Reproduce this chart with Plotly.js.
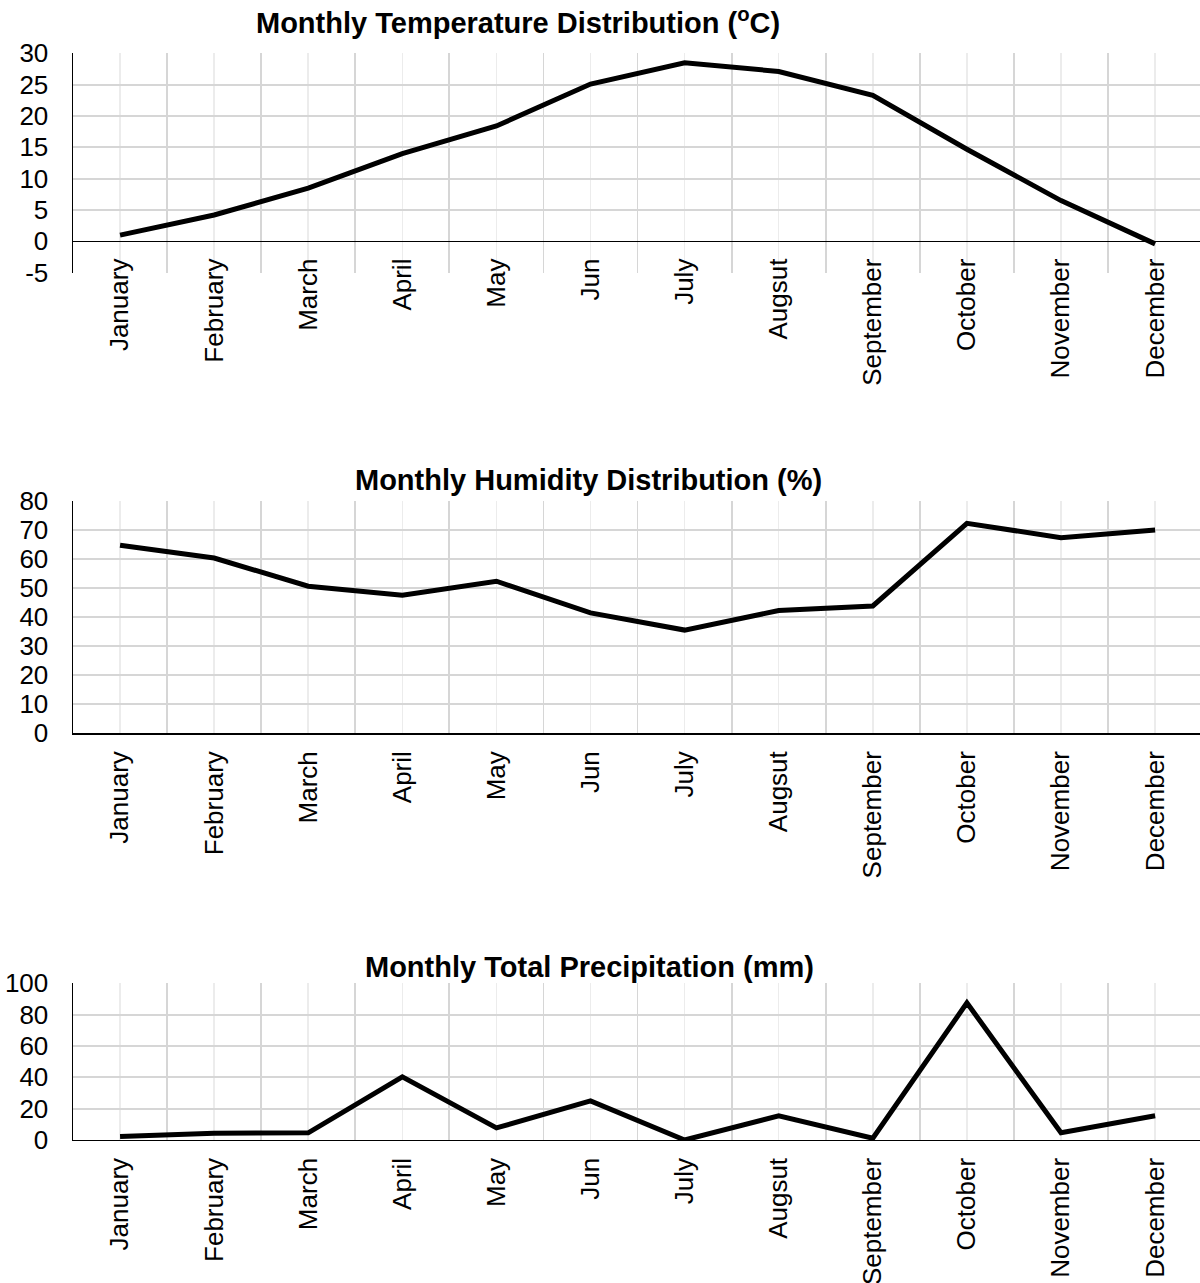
<!DOCTYPE html>
<html>
<head>
<meta charset="utf-8">
<script src="https://cdn.plot.ly/plotly-3.0.1.min.js"></script>
<style>
html,body{margin:0;padding:0;background:#fff;}
#chart{width:1200px;height:1283px;}
</style>
</head>
<body>
<div id="chart"></div>
<script>
const months = ["January","February","March","April","May","Jun","July","Augsut","September","October","November","December"];
const temperature = [1.0, 4.2, 8.5, 14.0, 18.4, 25.1, 28.5, 27.1, 23.3, 14.7, 6.5, -0.4];
const humidity = [64.7, 60.3, 50.6, 47.5, 52.3, 41.4, 35.5, 42.2, 43.8, 72.2, 67.3, 69.9];
const precipitation = [2.2, 4.3, 4.6, 40.3, 7.7, 25.0, 0.0, 15.4, 1.1, 87.5, 4.6, 15.5];
const titles = ["Monthly Temperature Distribution (<sup>o</sup>C)", "Monthly Humidity Distribution (%)", "Monthly Total Precipitation (mm)"];
const tempTicks = [-5, 0, 5, 10, 15, 20, 25, 30];
const tempTickText = ["-5", "0", "5", "10", "15", "20", "25", "30"];

const idx = months.map((m, i) => i);
const FONT = "Liberation Sans, Arial, sans-serif";
const lineStyle = {color: "#000000", width: 5};

const traces = [
  {x: idx, y: temperature, xaxis: "x", yaxis: "y", type: "scatter", mode: "lines", line: lineStyle, text: months, hoverinfo: "text+y"},
  {x: idx, y: humidity, xaxis: "x2", yaxis: "y2", type: "scatter", mode: "lines", line: lineStyle, text: months, hoverinfo: "text+y"},
  {x: idx, y: precipitation, xaxis: "x3", yaxis: "y3", type: "scatter", mode: "lines", line: lineStyle, text: months, hoverinfo: "text+y"}
];

function xAxis(extra) {
  return Object.assign({
    range: [-0.5, 11.477],
    tickmode: "array",
    tickvals: idx,
    ticktext: months,
    tickangle: -90,
    ticks: "",
    ticklabelstandoff: 6,
    tickfont: {family: FONT, size: 26, color: "#000"},
    showgrid: true,
    gridcolor: "#ececec",
    gridwidth: 1.5,
    minor: {tickmode: "array", tickvals: idx.map(i => i - 0.5).concat([11.5]), showgrid: true, gridcolor: "#d6d6d6", gridwidth: 1.8, ticks: ""},
    showline: true,
    linecolor: "#000000",
    linewidth: 1.5,
    zeroline: false,
    fixedrange: true
  }, extra);
}
function yAxis(extra) {
  return Object.assign({
    tickfont: {family: FONT, size: 26, color: "#000"},
    ticks: "",
    ticklabelstandoff: 18,
    showgrid: true,
    gridcolor: "#d6d6d6",
    gridwidth: 1.8,
    showline: true,
    linecolor: "#000000",
    linewidth: 1.5,
    zeroline: false,
    fixedrange: true
  }, extra);
}

const layout = {
  width: 1200,
  height: 1283,
  margin: {l: 73, r: 0, t: 0, b: 0, pad: 0},
  paper_bgcolor: "#ffffff",
  plot_bgcolor: "#ffffff",
  showlegend: false,
  font: {family: FONT, color: "#000"},
  xaxis: xAxis({anchor: "free", position: 0.81185, showline: false, ticklabelstandoff: 11}),
  yaxis: yAxis({domain: [0.78745, 0.95846], range: [-5, 30], tickmode: "array", tickvals: tempTicks, ticktext: tempTickText, anchor: "x",
                zeroline: true, zerolinecolor: "#000000", zerolinewidth: 1.5}),
  xaxis2: xAxis({anchor: "y2"}),
  yaxis2: yAxis({domain: [0.42845, 0.60974], range: [0, 80], dtick: 10, anchor: "x2"}),
  xaxis3: xAxis({anchor: "y3"}),
  yaxis3: yAxis({domain: [0.11146, 0.23359], range: [0, 100], dtick: 20, anchor: "x3"}),
  annotations: [
    {text: "<b>" + titles[0] + "</b>", xref: "paper", yref: "paper", x: 0.3949, y: 0.9838, xanchor: "center", yanchor: "middle", showarrow: false, font: {family: FONT, size: 29, color: "#000"}},
    {text: "<b>" + titles[1] + "</b>", xref: "paper", yref: "paper", x: 0.4574, y: 0.62588, xanchor: "center", yanchor: "middle", showarrow: false, font: {family: FONT, size: 29, color: "#000"}},
    {text: "<b>" + titles[2] + "</b>", xref: "paper", yref: "paper", x: 0.4583, y: 0.2463, xanchor: "center", yanchor: "middle", showarrow: false, font: {family: FONT, size: 29, color: "#000"}}
  ]
};

Plotly.newPlot("chart", traces, layout, {staticPlot: true, displayModeBar: false});
</script>
</body>
</html>
